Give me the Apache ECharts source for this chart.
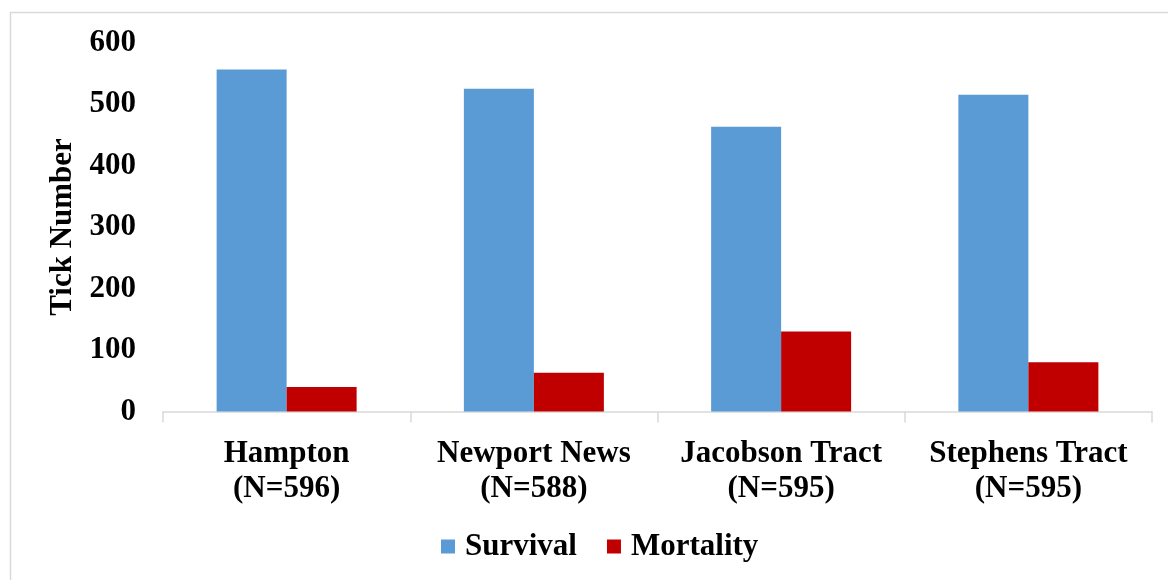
<!DOCTYPE html>
<html>
<head>
<meta charset="utf-8">
<script src="https://cdn.jsdelivr.net/npm/echarts@6/dist/echarts.min.js"></script>
<style>
html,body{margin:0;padding:0;background:#fff;}
#chart{width:1168px;height:580px;}
</style>
</head>
<body>
<div id="chart"></div>
<script>
const categories = ['Hampton\n(N=596)', 'Newport News\n(N=588)', 'Jacobson Tract\n(N=595)', 'Stephens Tract\n(N=595)'];
const survival = [556, 525, 463, 515];
const mortality = [40, 63, 130, 80];
const yTicks = [0, 100, 200, 300, 400, 500, 600];

const FONT = '"Liberation Serif", "Times New Roman", serif';
const chart = echarts.init(document.getElementById('chart'), null, {renderer: 'canvas'});
chart.setOption({
  animation: false,
  backgroundColor: '#fff',
  graphic: [{
    type: 'rect',
    shape: {x: 10.5, y: 12.5, width: 1200, height: 620},
    style: {fill: 'none', stroke: '#d9d9d9', lineWidth: 1.5},
    silent: true, z: -1
  }],
  grid: {left: 163, right: 16, top: 42.5, bottom: 168.5, containLabel: false},
  legend: {
    data: ['Survival', 'Mortality'],
    left: 441, top: 529, padding: 0,
    icon: 'rect', itemWidth: 14, itemHeight: 14, itemGap: 30,
    textStyle: {fontFamily: FONT, fontWeight: 'bold', fontSize: 31, color: '#000', padding: [0, 0, 0, 5], lineHeight: 35}
  },
  xAxis: {
    type: 'category',
    data: categories,
    axisLine: {lineStyle: {color: '#d9d9d9', width: 1.5}},
    axisTick: {show: true, length: 11, lineStyle: {color: '#d9d9d9', width: 1.5}},
    axisLabel: {fontFamily: FONT, fontWeight: 'bold', fontSize: 31, color: '#000', lineHeight: 35, margin: 25, interval: 0}
  },
  yAxis: {
    type: 'value',
    min: yTicks[0], max: yTicks[yTicks.length - 1], interval: 100,
    name: 'Tick Number',
    nameLocation: 'middle',
    nameGap: 84,
    nameTextStyle: {fontFamily: FONT, fontWeight: 'bold', fontSize: 31, color: '#000'},
    axisLine: {show: false},
    axisTick: {show: false},
    splitLine: {show: false},
    axisLabel: {fontFamily: FONT, fontWeight: 'bold', fontSize: 31, color: '#000', margin: 27}
  },
  series: [
    {name: 'Survival', type: 'bar', data: survival, barWidth: 70, barGap: '0%', itemStyle: {color: '#5B9BD5'}},
    {name: 'Mortality', type: 'bar', data: mortality, barWidth: 70, barGap: '0%', itemStyle: {color: '#C00000'}}
  ]
});
</script>
</body>
</html>
